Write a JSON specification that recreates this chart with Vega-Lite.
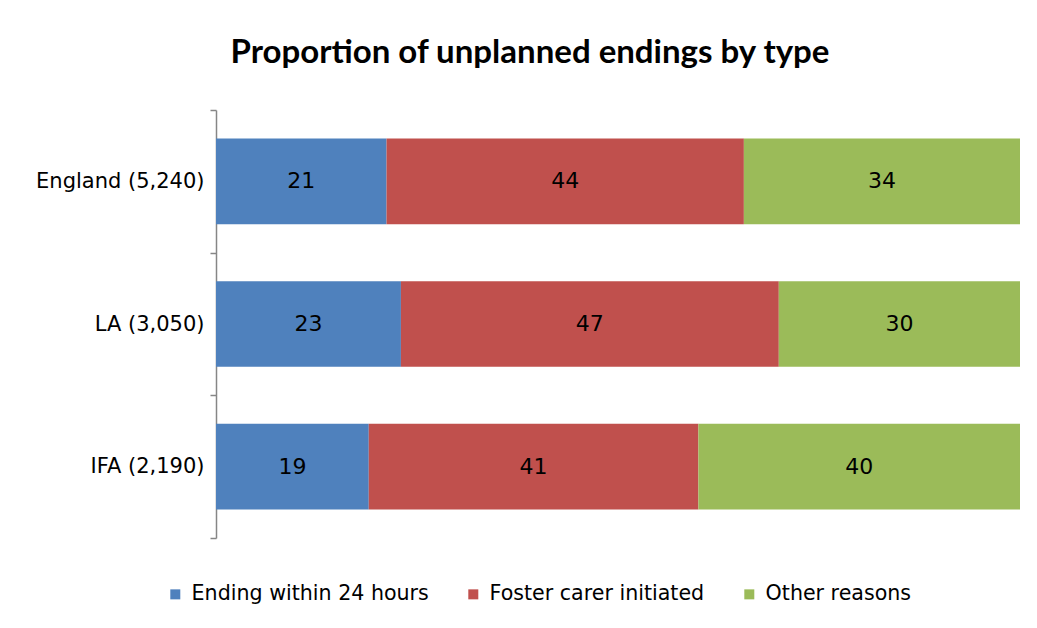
{
  "$schema": "https://vega.github.io/schema/vega-lite/v6.json",
  "autosize": "none",
  "width": 804,
  "height": 428,
  "padding": {"left": 216, "top": 110, "right": 17, "bottom": 90},
  "background": "white",
  "title": {"text": "Proportion of unplanned endings by type", "font": "Lato", "fontSize": 33, "fontWeight": "bold", "color": "#000000", "anchor": "middle", "offset": 29, "dx": -88},
  "data": {"values": [
    {"group": "England (5,240)", "type": "Ending within 24 hours", "k": 1, "v": 21},
    {"group": "England (5,240)", "type": "Foster carer initiated", "k": 2, "v": 44},
    {"group": "England (5,240)", "type": "Other reasons", "k": 3, "v": 34},
    {"group": "LA (3,050)", "type": "Ending within 24 hours", "k": 1, "v": 23},
    {"group": "LA (3,050)", "type": "Foster carer initiated", "k": 2, "v": 47},
    {"group": "LA (3,050)", "type": "Other reasons", "k": 3, "v": 30},
    {"group": "IFA (2,190)", "type": "Ending within 24 hours", "k": 1, "v": 19},
    {"group": "IFA (2,190)", "type": "Foster carer initiated", "k": 2, "v": 41},
    {"group": "IFA (2,190)", "type": "Other reasons", "k": 3, "v": 40}
  ]},
  "transform": [
    {"stack": "v", "groupby": ["group"], "sort": [{"field": "k"}], "offset": "normalize", "as": ["x0", "x1"]},
    {"calculate": "(datum.x0 + datum.x1) / 2", "as": "xm"}
  ],
  "encoding": {
    "y": {"field": "group", "type": "nominal", "sort": ["England (5,240)", "LA (3,050)", "IFA (2,190)"],
      "scale": {"paddingInner": 0, "paddingOuter": 0},
      "axis": {"title": null, "domain": true, "domainColor": "#868686", "domainWidth": 1.5, "ticks": true, "tickBand": "extent", "tickColor": "#868686", "tickSize": 6, "tickWidth": 1.5, "labelFont": "DejaVu Sans", "labelFontSize": 21, "labelColor": "#000000", "labelPadding": 6, "labelLimit": 0}}
  },
  "layer": [
    {
      "mark": {"type": "bar", "stroke": null, "height": {"band": 0.6}},
      "encoding": {
        "x": {"field": "x0", "type": "quantitative", "scale": {"domain": [0, 1], "nice": false}, "axis": null},
        "x2": {"field": "x1"},
        "color": {"field": "type", "type": "nominal",
          "scale": {"domain": ["Ending within 24 hours", "Foster carer initiated", "Other reasons"], "range": ["#4F81BD", "#C0504D", "#9BBB59"]},
          "legend": {"title": null, "orient": "none", "legendX": -51, "legendY": 474, "direction": "horizontal", "symbolType": "square", "symbolSize": 100, "symbolStrokeWidth": 0, "labelFont": "DejaVu Sans", "labelFontSize": 20.6, "labelColor": "#000000", "columnPadding": 34, "labelOffset": 6, "labelLimit": 0}}
      }
    },
    {
      "mark": {"type": "text", "font": "DejaVu Sans", "fontSize": 22, "color": "#000000", "baseline": "middle", "align": "center"},
      "encoding": {
        "x": {"field": "xm", "type": "quantitative", "scale": {"domain": [0, 1], "nice": false}},
        "text": {"field": "v", "type": "quantitative"}
      }
    }
  ],
  "config": {"view": {"stroke": null}}
}
